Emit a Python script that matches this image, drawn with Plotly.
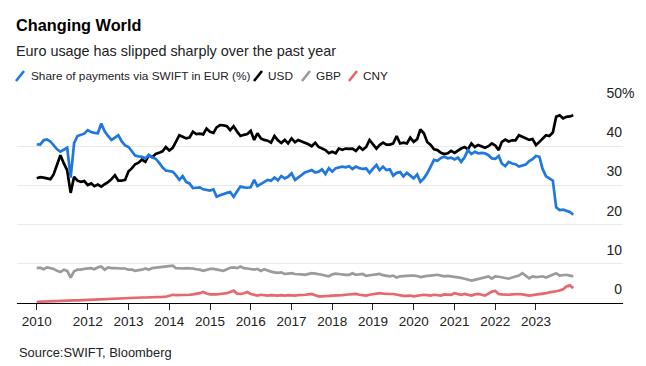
import pandas as pd
import plotly.graph_objects as go

# ---------------- data (monthly, Oct 2010 - Dec 2023) ----------------
dates = pd.date_range("2010-10-01", periods=159, freq="MS")

eur = [40.5, 40.4, 41.5, 41.7, 41.2, 40.2, 39.2, 38.6, 39.2, 39.6,
       32.0, 40.8, 42.6, 43.0, 43.2, 44.1, 43.6, 43.4, 43.3, 45.8,
       43.8, 42.6, 41.6, 42.2, 42.8, 41.2, 40.2, 39.8, 38.6, 37.6,
       37.4, 37.3, 36.9, 37.7, 37.2, 36.8, 35.8, 34.6, 33.8,
       33.6, 33.5, 32.6, 31.4, 32.4, 30.9, 30.5, 29.3, 29.4, 29.5,
       29.0, 28.8, 28.7, 29.0, 27.1, 27.5, 27.7, 28.1, 28.3, 27.1,
       28.5, 29.7, 29.5, 29.4, 29.5, 31.4, 29.8, 30.4, 30.9, 31.4,
       31.2, 32.0, 31.3, 32.4, 31.8, 32.2, 33.1, 31.4, 32.0, 32.6,
       33.3, 33.6, 33.9, 33.3, 33.5, 34.1, 32.9, 34.4, 33.5, 34.4,
       34.6, 34.8, 34.6, 34.9, 34.2, 34.8, 34.4, 34.2, 34.3, 33.2,
       34.3, 35.2, 33.9, 34.8, 33.9, 34.1, 32.5, 33.2, 33.4, 32.3,
       33.2, 32.5, 31.8, 32.8, 30.9, 31.8, 33.1, 34.8, 36.5, 36.3,
       37.0, 37.3, 36.9, 37.1, 36.6, 37.1, 36.0, 37.2, 39.0, 38.0,
       38.6, 38.2, 38.3, 38.2, 37.7, 36.9, 36.8, 37.5, 35.6, 34.9,
       36.0, 35.6, 35.4, 34.8, 35.1, 35.3, 36.2, 36.7, 37.5, 37.3,
       34.2, 32.3, 31.8, 31.2, 24.4, 23.7, 23.8, 23.6, 23.2, 22.5]

usd = [31.8, 32.1, 32.0, 31.7, 31.6, 32.8, 35.2, 37.7, 35.6, 33.8,
       28.1, 32.2, 31.2, 30.9, 31.1, 30.1, 30.5, 29.8, 30.2, 29.7,
       30.3, 30.8, 31.6, 32.6, 31.2, 31.2, 31.4, 33.6, 34.4, 35.4,
       35.8, 36.6, 36.0, 37.7, 37.2, 38.0, 38.3, 38.7, 39.8,
       38.9, 39.6, 41.1, 42.8, 42.4, 42.0, 42.2, 43.7, 43.1, 43.2,
       43.0, 44.5, 43.7, 43.4, 44.8, 45.4, 45.3, 45.1, 44.1, 45.1,
       43.7, 42.6, 42.9, 43.1, 43.9, 41.6, 43.3, 42.0, 41.6, 41.4,
       40.9, 42.6, 41.5, 40.8, 41.6, 40.7, 42.0, 41.0, 41.6, 41.2,
       41.0, 40.5, 40.0, 40.9, 39.8, 39.4, 39.0, 38.2, 38.6, 38.2,
       39.4, 39.1, 39.4, 39.3, 39.4, 38.8, 39.8, 39.1, 39.8, 41.6,
       40.5, 39.4, 40.3, 40.9, 40.4, 40.4, 40.7, 42.6, 40.7, 40.9,
       40.7, 42.2, 41.1, 41.8, 44.3, 43.3, 41.1, 40.3, 39.2, 39.0,
       38.3, 38.0, 38.2, 38.8, 38.3, 39.0, 39.4, 39.8, 39.2, 40.7,
       39.8, 40.3, 40.0, 39.6, 40.0, 40.7, 40.2, 39.0, 41.1, 41.7,
       41.2, 41.5, 41.5, 42.8, 42.4, 42.0, 41.6, 41.8, 40.3, 41.1,
       42.0, 42.8, 42.6, 43.5, 47.5, 47.9, 47.1, 47.5, 47.6, 47.9]

gbp = [8.9, 9.0, 8.6, 9.1, 8.9, 8.7, 8.2, 7.9, 8.5, 8.2,
       6.5, 8.1, 8.5, 8.5, 8.7, 8.8, 8.9, 8.6, 9.1, 9.3,
       8.5, 9.1, 8.9, 8.9, 8.8, 8.8, 8.8, 8.5, 8.5, 8.2,
       8.4, 8.5, 8.8, 8.5, 8.9, 9.0, 9.1, 9.1, 9.3, 9.3,
       9.5, 8.9, 8.8, 8.8, 8.9, 8.9, 8.8, 8.6, 8.5, 8.2,
       8.4, 8.7,
       8.7, 8.5, 8.4, 8.2, 8.6, 9.0, 9.1, 8.9, 9.3, 8.9,
       8.8, 8.7, 8.5, 8.7, 8.2, 8.6, 8.2, 8.0, 7.8, 7.7,
       7.8, 7.4, 7.5, 7.6, 7.4, 7.4, 7.3, 7.2, 7.4, 7.6,
       7.5, 7.4, 7.2, 7.0, 6.8, 7.3, 7.5, 7.4, 7.2, 7.2,
       7.2, 7.6, 7.2, 7.3, 7.4, 6.9, 7.1, 7.2, 7.3, 7.4,
       7.1, 7.0, 6.8, 7.0,
       6.5, 6.8, 6.9, 7.0, 7.0, 7.0, 6.9, 6.6, 6.8, 6.9,
       7.0, 7.1, 7.2, 7.0, 6.8, 6.9, 6.8, 6.6, 6.5, 6.4,
       6.2, 6.0, 5.7, 5.9, 6.1, 6.4, 6.6, 6.8, 6.2, 6.8,
       6.7, 6.6, 6.4, 6.2, 6.5, 6.8, 7.0, 7.6, 7.0, 6.3,
       6.8, 6.6, 6.7, 6.8, 6.5, 6.8, 7.1, 7.6, 7.0, 7.2,
       7.2, 7.0, 6.8]

cny = [0.3, 0.35, 0.4, 0.4, 0.45, 0.5, 0.5, 0.55, 0.55, 0.6,
       0.6, 0.65, 0.65, 0.7, 0.7, 0.75, 0.8, 0.85, 0.85, 0.9,
       0.95, 1.0, 1.0, 1.05, 1.1, 1.15, 1.2, 1.3, 1.3, 1.35,
       1.35, 1.4, 1.4, 1.4, 1.45, 1.4, 1.5, 1.55, 1.6, 1.9,
       2.1, 2.0, 2.0, 2.0, 2.1, 2.1, 2.2, 2.3, 2.5, 2.8,
       2.4, 2.2, 2.1, 2.2, 2.3, 2.4, 2.5, 2.8, 3.15, 2.4,
       2.3, 2.5, 2.8, 2.3, 2.0, 1.9, 2.1, 2.0, 1.9, 2.0,
       1.9, 1.9, 2.0, 1.9, 2.0, 1.9, 1.9, 2.0, 2.0, 2.1,
       2.2, 2.3, 2.0, 1.7, 1.7, 1.7, 1.8, 1.9, 1.9, 2.0,
       2.0, 2.1, 2.2, 2.3, 2.3, 2.1, 2.0, 1.9, 2.1, 2.3,
       2.4, 2.5, 2.4, 2.3, 2.3, 2.3, 2.1, 1.9, 1.8, 1.8,
       1.9, 1.7, 1.8, 1.9, 2.1, 2.0, 1.9, 2.1, 2.0, 1.9,
       2.2, 2.2, 2.1, 2.5, 2.2, 2.1, 2.3, 2.1, 1.9, 2.2,
       2.3, 2.1, 1.9, 2.4, 2.9, 3.1, 2.3, 2.2, 2.1, 2.1,
       2.2, 2.3, 2.3, 2.2, 2.1, 1.9, 2.0, 2.1, 2.3, 2.4,
       2.5, 2.7, 2.8, 3.0, 3.2, 3.5, 4.2, 4.5, 3.8]

series_names = ["Share of payments via SWIFT in EUR (%)", "USD", "GBP", "CNY"]
series_colors = ["#1f77e0", "#000000", "#9b9b9b", "#e8666e"]

x_tickvals = ["2010-10-01", "2012-01-01", "2013-01-01", "2014-01-01", "2015-01-01",
              "2016-01-01", "2017-01-01", "2018-01-01", "2019-01-01", "2020-01-01",
              "2021-01-01", "2022-01-01", "2023-01-01"]
x_ticktext = ["2010", "2012", "2013", "2014", "2015", "2016", "2017", "2018",
              "2019", "2020", "2021", "2022", "2023"]
y_tickvals = [0, 10, 20, 30, 40, 50]
y_ticktext = ["0", "10", "20", "30", "40", "50"]

title_text = "Changing World"
subtitle_text = "Euro usage has slipped sharply over the past year"
source_text = "Source:SWIFT, Bloomberg"

# ---------------- layout geometry ----------------
W, H = 646, 366
ML, MR, MT, MB = 17, 23, 107, 63
PW, PH = W - ML - MR, H - MT - MB


def px_x(px):
    return (px - ML) / PW


def px_y(py):
    return (H - MB - py) / PH


SANS = "Liberation Sans, Arial, sans-serif"

fig = go.Figure()
series = [eur, usd, gbp, cny]
draw_order = [2, 3, 1, 0]
for k in draw_order:
    fig.add_trace(go.Scatter(x=dates, y=series[k], mode="lines", name=series_names[k],
                             line=dict(color=series_colors[k], width=2.7),
                             hoverinfo="skip"))

annotations = [
    dict(text="<b>" + title_text + "</b>", x=px_x(14), y=px_y(25), xanchor="left",
         yanchor="middle", font=dict(family=SANS, size=16.3, color="#000")),
    dict(text=subtitle_text, x=px_x(14), y=px_y(51), xanchor="left", yanchor="middle",
         font=dict(family=SANS, size=14.4, color="#222")),
    dict(text=source_text, x=px_x(17), y=px_y(352), xanchor="left", yanchor="middle",
         font=dict(family=SANS, size=12.9, color="#222")),
    dict(text="%", x=px_x(620), y=px_y(93), xanchor="left", yanchor="middle",
         font=dict(family=SANS, size=14, color="#222")),
]

legend_slash_x = [16, 254, 302, 349]
legend_text_x = [29, 266, 314, 361]
shapes = []
for k in range(4):
    x0 = legend_slash_x[k]
    shapes.append(dict(type="line", xref="paper", yref="paper",
                       x0=px_x(x0), y0=px_y(81), x1=px_x(x0 + 8), y1=px_y(71),
                       line=dict(color=series_colors[k], width=2.6)))
    annotations.append(dict(text=series_names[k], x=px_x(legend_text_x[k]), y=px_y(76),
                            xanchor="left", yanchor="middle",
                            font=dict(family=SANS, size=11.8, color="#222")))

for a in annotations:
    a.update(xref="paper", yref="paper", showarrow=False)

fig.update_layout(
    width=W, height=H,
    margin=dict(l=ML, r=MR, t=MT, b=MB),
    paper_bgcolor="white", plot_bgcolor="white",
    showlegend=False, hovermode=False,
    annotations=annotations, shapes=shapes,
    xaxis=dict(type="date", range=["2010-04-07", "2025-02-19"],
               tickmode="array", tickvals=x_tickvals, ticktext=x_ticktext,
               showgrid=False, zeroline=False,
               showline=True, linecolor="#000", linewidth=1.3,
               ticks="outside", ticklen=6, tickcolor="#222", tickwidth=1,
               tickfont=dict(family=SANS, size=13.5, color="#222")),
    yaxis=dict(range=[0, 50], side="left", anchor="free", position=1.0,
               tickmode="array", tickvals=y_tickvals, ticktext=y_ticktext,
               ticklabelposition="outside", ticklabelstandoff=1, ticklabelshift=-14,
               showgrid=True, gridcolor="#e9e9e9", gridwidth=1,
               zeroline=False, showline=False, ticks="",
               tickfont=dict(family=SANS, size=14, color="#222")),
)

fig.write_html("out.html", config={"displayModeBar": False},
               post_script="document.body.style.margin='0';")
